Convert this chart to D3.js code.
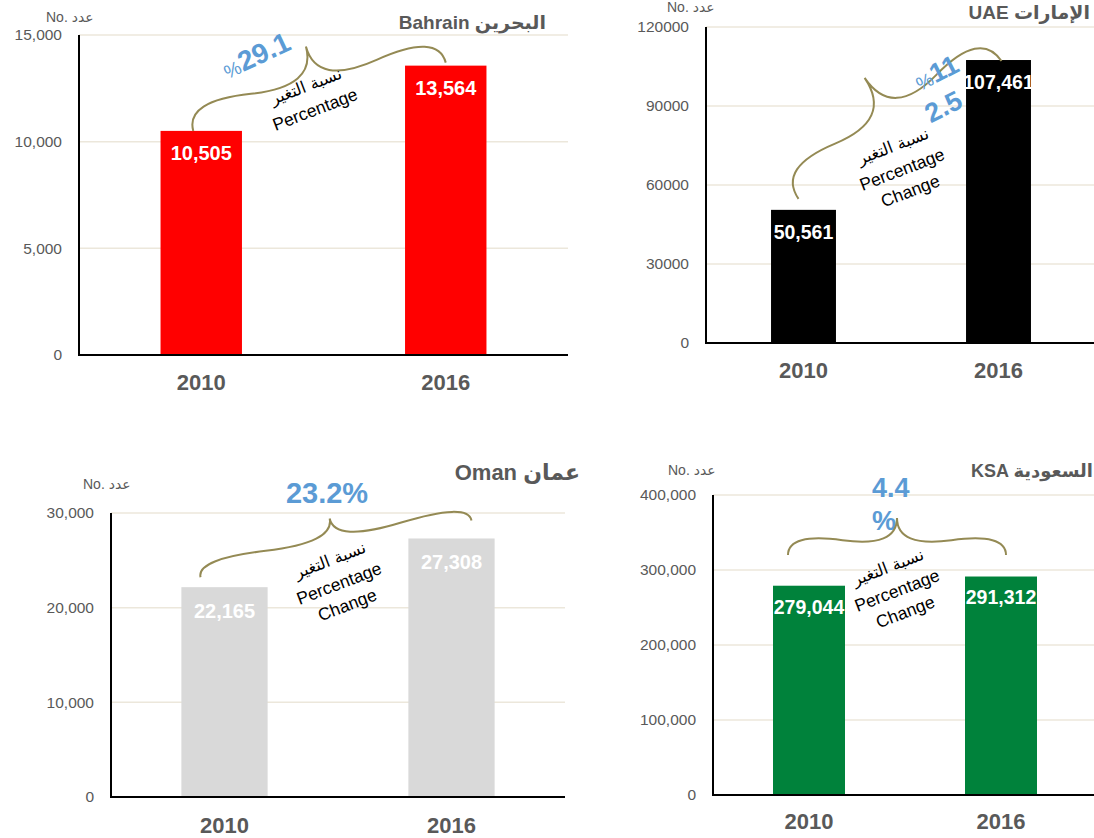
<!DOCTYPE html>
<html><head><meta charset="utf-8">
<script src="https://cdn.jsdelivr.net/npm/d3@7"></script>
<style>
body{margin:0;background:#fff;}
svg{display:block;font-family:"Liberation Sans",Arial,"DejaVu Sans",sans-serif;}
</style>
</head><body>
<svg id="chart" width="1094" height="838"></svg>
<script>
// ---------- data ----------
const years = ["2010", "2016"];
const bahrainValues = [10505, 13564];
const uaeValues = [50561, 107461];
const omanValues = [22165, 27308];
const ksaValues = [279044, 291312];
const bahrainTicks = [0, 5000, 10000, 15000];
const uaeTicks = [0, 30000, 60000, 90000, 120000];
const omanTicks = [0, 10000, 20000, 30000];
const ksaTicks = [0, 100000, 200000, 300000, 400000];
const titlesEn = ["Bahrain", "UAE", "Oman", "KSA"];
const titlesAr = ["البحرين", "الإمارات", "عمان", "السعودية"];
const barColors = ["#FF0000", "#000000", "#D9D9D9", "#00823B"];
const changeArabic = "نسبة التغير";
const changeEnglish = ["Percentage", "Change"];
const unitLabel = "No. عدد";

// ---------- layout ----------
const panels = [
  {values: bahrainValues, ticks: bahrainTicks, fmt: d3.format(","), x0: 79, x1: 568, yB: 355, yT: 35, pad: 0.667,
   color: barColors[0], en: titlesEn[0], ar: titlesAr[0], titleX: 546, titleY: 29, titleSize: 19,
   unitX: 46, unitY: 22, labelOff: 22, yearPad: 19},
  {values: uaeValues, ticks: uaeTicks, fmt: d3.format("d"), x0: 706, x1: 1096, yB: 343, yT: 27, pad: 0.667,
   color: barColors[1], en: titlesEn[1], ar: titlesAr[1], titleX: 1090, titleY: 19, titleSize: 19,
   unitX: 667, unitY: 12, labelOff: 22, yearPad: 19},
  {values: omanValues, ticks: omanTicks, fmt: d3.format(","), x0: 111, x1: 565, yB: 797, yT: 513, pad: 0.62,
   color: barColors[2], en: titlesEn[2], ar: titlesAr[2], titleX: 580, titleY: 480, titleSize: 22,
   unitX: 83, unitY: 489, labelOff: 24, yearPad: 20},
  {values: ksaValues, ticks: ksaTicks, fmt: d3.format(","), x0: 713, x1: 1097, yB: 795, yT: 495, pad: 0.625,
   color: barColors[3], en: titlesEn[3], ar: titlesAr[3], titleX: 1093, titleY: 477, titleSize: 18,
   unitX: 668, unitY: 475, labelOff: 21, yearPad: 18}
];

const svg = d3.select("#chart");
const grey = "#595959";
const braceColor = "#948A54";
const blue = "#5B9BD5";

function bracePath(ax, ay, bx, by, w, q) {
  const dx = bx - ax, dy = by - ay, len = Math.hypot(dx, dy);
  const ux = dx / len, uy = dy / len;
  const nx = uy, ny = -ux;
  const tipX = ax + ux * 0.5 * len + nx * w, tipY = ay + uy * 0.5 * len + ny * w;
  const p = [];
  p.push(`M${ax},${ay}`);
  p.push(`Q${ax + nx*q*w},${ay + ny*q*w} ${ax + ux*0.25*len + nx*(1-q)*w},${ay + uy*0.25*len + ny*(1-q)*w}`);
  p.push(`T${tipX},${tipY}`);
  p.push(`M${bx},${by}`);
  p.push(`Q${bx + nx*q*w},${by + ny*q*w} ${bx - ux*0.25*len + nx*(1-q)*w},${by - uy*0.25*len + ny*(1-q)*w}`);
  p.push(`T${tipX},${tipY}`);
  return p.join(" ");
}

panels.forEach((P, i) => {
  const g = svg.append("g");
  const x = d3.scaleBand().domain(years).range([P.x0, P.x1]).paddingInner(P.pad).paddingOuter(P.pad / 2);
  const y = d3.scaleLinear().domain([0, P.ticks[P.ticks.length - 1]]).range([P.yB, P.yT]);
  P.x = x; P.y = y;

  // gridlines
  g.append("g").selectAll("line").data(P.ticks.filter(t => t > 0)).join("line")
    .attr("x1", P.x0).attr("x2", P.x1).attr("y1", d => y(d)).attr("y2", d => y(d))
    .attr("stroke", "#ECE7DB").attr("stroke-width", 1.5);

  // y axis labels
  const ya = g.append("g").attr("transform", `translate(${P.x0},0)`)
    .call(d3.axisLeft(y).tickValues(P.ticks).tickFormat(P.fmt).tickSize(0).tickPadding(17));
  ya.select(".domain").remove();
  ya.selectAll("text").attr("fill", grey).attr("font-size", 15.5)
    .attr("font-family", '"Liberation Sans",Arial,sans-serif');

  // bars
  g.append("g").selectAll("rect").data(P.values).join("rect")
    .attr("x", (d, k) => x(years[k])).attr("width", x.bandwidth())
    .attr("y", d => y(d)).attr("height", d => y(0) - y(d))
    .attr("fill", P.color);

  // axes lines
  g.append("line").attr("x1", P.x0).attr("x2", P.x0).attr("y1", P.yT).attr("y2", P.yB)
    .attr("stroke", "#000").attr("stroke-width", 2);
  g.append("line").attr("x1", P.x0 - 1).attr("x2", P.x1).attr("y1", P.yB).attr("y2", P.yB)
    .attr("stroke", "#000").attr("stroke-width", 2);

  // x axis labels
  const xa = g.append("g").attr("transform", `translate(0,${P.yB})`)
    .call(d3.axisBottom(x).tickSize(0).tickPadding(P.yearPad));
  xa.select(".domain").remove();
  xa.selectAll("text").attr("fill", grey).attr("font-size", 22).attr("font-weight", "bold")
    .attr("font-family", '"Liberation Sans",Arial,sans-serif');

  // value labels
  g.append("g").selectAll("text").data(P.values).join("text")
    .attr("x", (d, k) => x(years[k]) + x.bandwidth() / 2)
    .attr("y", d => y(d) + P.labelOff).attr("dy", "0.35em")
    .attr("text-anchor", "middle").attr("fill", "#fff").attr("font-weight", "bold")
    .attr("font-size", i === 3 || i === 1 ? 19.5 : 20)
    .text(d => d3.format(",")(d));

  // title
  const t = g.append("text").attr("x", P.titleX).attr("y", P.titleY).attr("text-anchor", "end")
    .attr("direction", "ltr").attr("fill", grey).attr("font-weight", "bold").attr("font-size", P.titleSize);
  t.text(P.en + " " + P.ar);

  // unit label
  g.append("text").attr("x", P.unitX).attr("y", P.unitY).attr("fill", grey).attr("font-size", 14)
    .attr("direction", "ltr").text(unitLabel);
});

// ---------- annotations ----------
function changeText(cx, cy, withChange) {
  const g = svg.append("g").attr("transform", `translate(${cx},${cy}) rotate(-21)`);
  g.append("text").attr("text-anchor", "middle").attr("dy", "0.35em").attr("font-size", 16.5)
    .attr("font-family", '"DejaVu Sans","Noto Sans",sans-serif').attr("fill", "#000").text(changeArabic);
  g.append("text").attr("text-anchor", "middle").attr("y", 25).attr("dy", "0.35em").attr("font-size", 17.5)
    .attr("fill", "#000").text(changeEnglish[0]);
  if (withChange) {
    g.append("text").attr("text-anchor", "middle").attr("y", 48).attr("dy", "0.35em").attr("font-size", 17.5)
      .attr("fill", "#000").text(changeEnglish[1]);
  }
}

function pctRot(cx, cy, ang, small, big, size) {
  const g = svg.append("g").attr("transform", `translate(${cx},${cy}) rotate(${ang})`);
  const t = g.append("text").attr("text-anchor", "middle").attr("y", 10).attr("fill", blue);
  if (small) t.append("tspan").attr("font-size", 19).text(small);
  t.append("tspan").attr("font-size", size).attr("font-weight", "bold").text(big);
}

// Bahrain
{
  const P = panels[0], x = P.x, y = P.y, c = k => x(years[k]) + x.bandwidth() / 2;
  svg.append("path").attr("d", bracePath(c(0) - 8, y(P.values[0]), c(1), y(P.values[1]) - 3, 52, 0.6))
    .attr("fill", "none").attr("stroke", braceColor).attr("stroke-width", 2);
  pctRot(256, 55, -25, "%", "29.1", 28);
  changeText(306, 86, false);
}
// UAE
{
  const P = panels[1], x = P.x, y = P.y, c = k => x(years[k]) + x.bandwidth() / 2;
  svg.append("path").attr("d", bracePath(c(0) - 5, y(P.values[0]) - 11, c(1) + 3, y(P.values[1]) + 1, 63, 0.6))
    .attr("fill", "none").attr("stroke", braceColor).attr("stroke-width", 2);
  pctRot(936, 72, -27, "%", "11", 27);
  pctRot(943, 106, -27, null, "2.5", 27);
  changeText(893, 146, true);
}
// Oman
{
  const P = panels[2], x = P.x, y = P.y, c = k => x(years[k]) + x.bandwidth() / 2;
  svg.append("path").attr("d", bracePath(c(0) - 24, y(P.values[0]) - 10, c(1) + 20, y(P.values[1]) - 18, 31, 0.6))
    .attr("fill", "none").attr("stroke", braceColor).attr("stroke-width", 2);
  svg.append("text").attr("x", 327).attr("y", 503).attr("text-anchor", "middle").attr("fill", blue)
    .attr("font-size", 29).attr("font-weight", "bold").text("23.2%");
  changeText(330, 560, true);
}
// KSA
{
  const P = panels[3], x = P.x, y = P.y, c = k => x(years[k]) + x.bandwidth() / 2;
  svg.append("text").attr("x", 872).attr("y", 497).attr("fill", blue)
    .attr("font-size", 27).attr("font-weight", "bold").text("4.4");
  svg.append("text").attr("x", 872).attr("y", 530).attr("fill", blue)
    .attr("font-size", 27).attr("font-weight", "bold").text("%");
  svg.append("path").attr("d", bracePath(c(0) - 21, y(320000), c(1) + 5, y(320000), 37, 0.6))
    .attr("fill", "none").attr("stroke", braceColor).attr("stroke-width", 2);
  changeText(888, 567, true);
}
</script>
</body></html>
